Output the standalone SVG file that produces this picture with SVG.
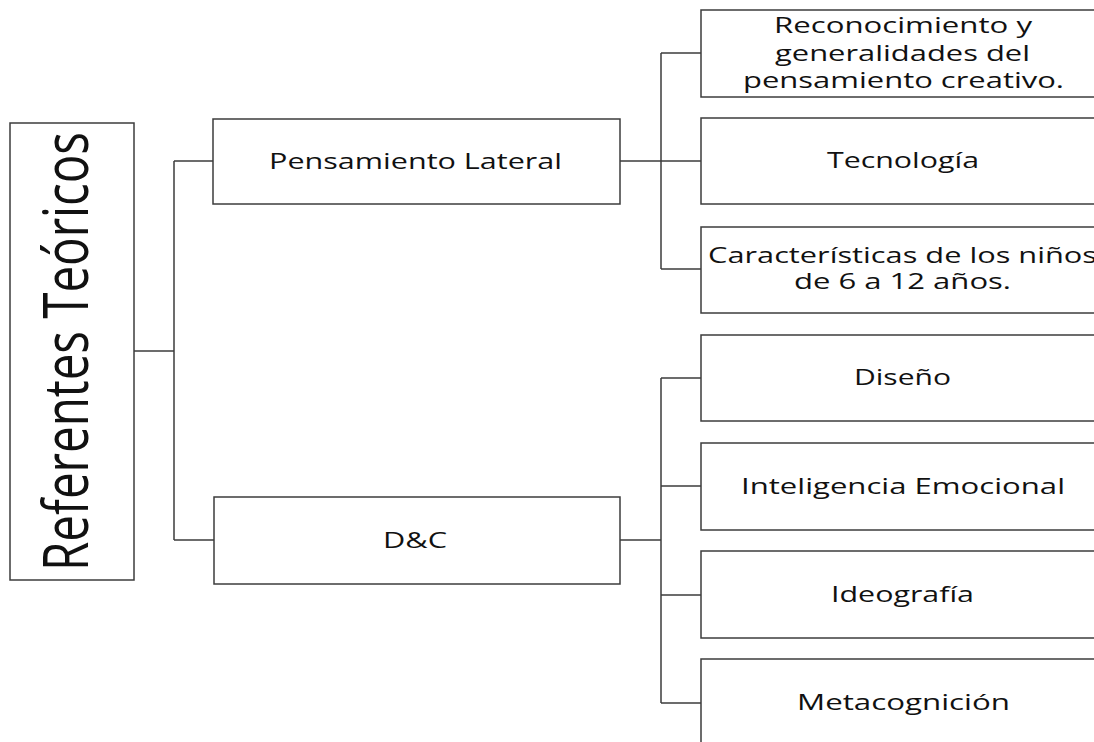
<svg xmlns="http://www.w3.org/2000/svg" width="1094" height="742" viewBox="0 0 1094 742">
<style>
.box{fill:#fff;stroke:#3c3c3c;stroke-width:1.5}
.conn{fill:none;stroke:#3c3c3c;stroke-width:1.5}
.t{font-family:"Open Sans","Noto Sans","Liberation Sans",sans-serif;font-size:21px;fill:#111}
.big{font-family:"Open Sans","Noto Sans","Liberation Sans",sans-serif;font-size:47px;fill:#111}
</style>
<rect width="1094" height="742" fill="#fff"/>
<g id="connectors">
<path class="conn" d="M134,351 H174 M174,161 V540 M174,161 H213 M174,540 H214"/>
<path class="conn" d="M620,161 H661 M661,53 V269 M661,53 H701 M661,161 H701 M661,269 H701"/>
<path class="conn" d="M620,540 H661 M661,378 V703 M661,378 H701 M661,486 H701 M661,595 H701 M661,703 H701"/>
</g>
<g id="root">
<rect class="box" x="10" y="123" width="124" height="457"/>
<text class="big" transform="translate(88,571) scale(1.34,1) rotate(-90)" x="0" y="0" textLength="439" lengthAdjust="spacingAndGlyphs">Referentes Teóricos</text>
</g>
<g id="pensamiento-lateral">
<rect class="box" x="213" y="119" width="407" height="85"/>
<text class="t" x="269" y="169" textLength="293" lengthAdjust="spacingAndGlyphs">Pensamiento Lateral</text>
</g>
<g id="dc">
<rect class="box" x="214" y="497" width="406" height="87"/>
<text class="t" x="383" y="548" textLength="64" lengthAdjust="spacingAndGlyphs">D&amp;C</text>
</g>
<g id="reconocimiento">
<rect class="box" x="701" y="10" width="404" height="87"/>
<text class="t" x="774" y="33" textLength="258" lengthAdjust="spacingAndGlyphs">Reconocimiento y</text>
<text class="t" x="775" y="61" textLength="255" lengthAdjust="spacingAndGlyphs">generalidades del</text>
<text class="t" x="743" y="88" textLength="321" lengthAdjust="spacingAndGlyphs">pensamiento creativo.</text>
</g>
<g id="tecnologia">
<rect class="box" x="701" y="118" width="404" height="86"/>
<text class="t" x="827" y="168" textLength="152" lengthAdjust="spacingAndGlyphs">Tecnología</text>
</g>
<g id="caracteristicas">
<rect class="box" x="701" y="227" width="404" height="86"/>
<text class="t" x="708" y="263" textLength="389" lengthAdjust="spacingAndGlyphs">Características de los niños</text>
<text class="t" x="794" y="289" textLength="217" lengthAdjust="spacingAndGlyphs">de 6 a 12 años.</text>
</g>
<g id="diseno">
<rect class="box" x="701" y="335" width="404" height="86"/>
<text class="t" x="854" y="385" textLength="97" lengthAdjust="spacingAndGlyphs">Diseño</text>
</g>
<g id="inteligencia">
<rect class="box" x="701" y="443" width="404" height="87"/>
<text class="t" x="741" y="494" textLength="324" lengthAdjust="spacingAndGlyphs">Inteligencia Emocional</text>
</g>
<g id="ideografia">
<rect class="box" x="701" y="551" width="404" height="87"/>
<text class="t" x="831" y="602" textLength="143" lengthAdjust="spacingAndGlyphs">Ideografía</text>
</g>
<g id="metacognicion">
<rect class="box" x="701" y="659" width="404" height="87"/>
<text class="t" x="797" y="710" textLength="213" lengthAdjust="spacingAndGlyphs">Metacognición</text>
</g>
</svg>
